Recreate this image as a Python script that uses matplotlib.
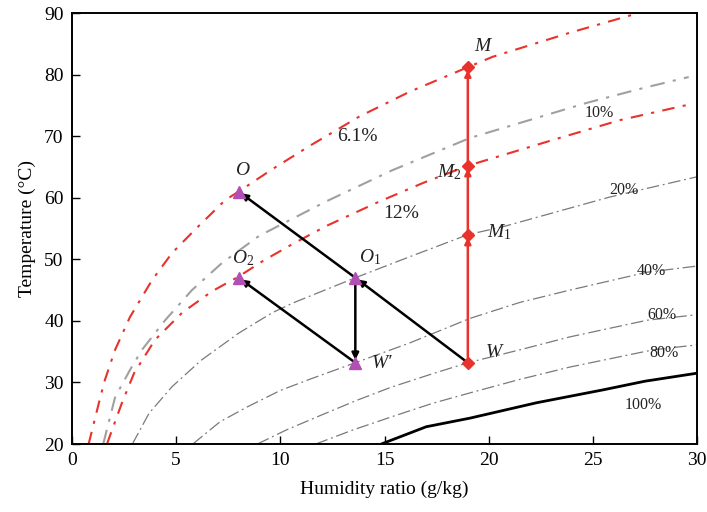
import matplotlib
matplotlib.use("Agg")
import matplotlib.pyplot as plt

plt.rcParams['font.family'] = ['Liberation Serif', 'DejaVu Serif']
plt.rcParams['mathtext.fontset'] = 'custom'
plt.rcParams['mathtext.rm'] = 'Liberation Serif'
plt.rcParams['mathtext.it'] = 'Liberation Serif:italic'

# Relative-humidity curves: (humidity ratio g/kg, temperature °C)
rh100_w = [14.85, 17.0, 19.1, 22.3, 25.5, 27.5, 30.0]
rh100_t = [20.0, 22.8, 24.2, 26.7, 28.8, 30.2, 31.5]

rh80_w = [11.7, 13.5, 15.5, 17.3, 19.1, 21.5, 23.9, 27.9, 30.0]
rh80_t = [20.0, 22.3, 24.6, 26.6, 28.3, 30.5, 32.5, 35.3, 36.1]

rh60_w = [8.9, 10.3, 11.9, 13.6, 15.3, 17.2, 19.0, 21.5, 23.9, 27.6, 30.0]
rh60_t = [20.0, 22.3, 24.6, 27.0, 29.2, 31.3, 33.2, 35.3, 37.4, 40.1, 41.0]

rh40_w = [5.8, 7.1, 8.4, 10.0, 11.4, 13.6, 16.2, 19.1, 21.5, 23.9, 27.6, 30.0]
rh40_t = [20.0, 23.6, 26.0, 28.7, 30.5, 33.2, 36.4, 40.4, 43.0, 45.0, 47.9, 48.9]

rh20_w = [2.9, 3.7, 4.8, 6.2, 8.0, 9.6, 10.6, 13.6, 16.2, 19.0, 20.7, 25.8, 30.0]
rh20_t = [20.0, 25.0, 29.3, 33.6, 38.0, 41.3, 42.9, 47.0, 50.4, 54.0, 55.3, 60.1, 63.4]

rh10_w = [1.5, 2.07, 2.78, 3.36, 4.47, 5.76, 7.2, 8.98, 12.2, 15.4, 19.1, 24.7, 27.4, 29.6]
rh10_t = [20.0, 27.6, 32.0, 35.3, 40.1, 45.0, 49.4, 53.8, 59.4, 64.5, 69.7, 75.4, 77.8, 79.6]

rh12_w = [1.68, 2.4, 2.98, 3.98, 5.28, 6.72, 8.0, 9.2, 10.6, 12.2, 14.7, 16.85, 19.0, 23.1, 26.3, 29.7]
rh12_t = [20.0, 26.7, 31.5, 36.9, 41.3, 44.8, 47.2, 49.8, 52.5, 55.4, 59.3, 62.4, 65.2, 69.4, 72.6, 75.2]

rh61_w = [0.8, 1.36, 1.58, 2.07, 2.78, 3.84, 4.8, 5.9, 7.35, 8.0, 9.6, 11.4, 13.8, 16.2, 19.0, 20.2, 23.9, 27.2]
rh61_t = [20.0, 27.6, 30.4, 35.3, 40.6, 46.6, 51.0, 54.8, 59.6, 61.0, 64.6, 68.4, 73.2, 77.2, 81.2, 82.9, 86.8, 90.0]

# State points
state_names = ['W', 'M1', 'M2', 'M', 'O1', 'Wp', 'O', 'O2']
state_w = [19.0, 19.0, 19.0, 19.0, 13.6, 13.6, 8.0, 8.0]
state_t = [33.2, 54.0, 65.2, 81.2, 47.0, 33.2, 61.0, 47.0]
pt = {n: (w, t) for n, w, t in zip(state_names, state_w, state_t)}

RED = '#e8322b'
GRAY = '#7a7a7a'
LGRAY = '#a0a0a0'
MAG = '#b24fb4'

fig = plt.figure(figsize=(7.07, 5.12), dpi=100)
ax = fig.add_axes([0.1018, 0.1328, 0.8841, 0.8418])

gray_ls = (0, (10, 3, 1.5, 3))
ax.plot(rh100_w, rh100_t, color='black', lw=2.0)
for w, t in [(rh80_w, rh80_t), (rh60_w, rh60_t), (rh40_w, rh40_t), (rh20_w, rh20_t)]:
    ax.plot(w, t, color=GRAY, lw=0.9, ls=gray_ls)
ax.plot(rh10_w, rh10_t, color=LGRAY, lw=1.5, ls=(0, (7, 4, 1.5, 4)))
red_ls = (0, (6, 4, 1.5, 4))
ax.plot(rh12_w, rh12_t, color=RED, lw=1.5, ls=red_ls)
ax.plot(rh61_w, rh61_t, color=RED, lw=1.5, ls=red_ls)

def arrow(a, b, color, lw, ms):
    ax.annotate('', xy=pt[b], xytext=pt[a],
                arrowprops=dict(arrowstyle='-|>', color=color, lw=lw,
                                mutation_scale=ms, shrinkA=0, shrinkB=2))

# Heating path W -> M1 -> M2 -> M
arrow('W', 'M1', RED, 1.8, 9)
arrow('M1', 'M2', RED, 1.8, 9)
arrow('M2', 'M', RED, 1.8, 9)
# Drying paths
arrow('W', 'O1', 'black', 1.8, 10)
arrow('O1', 'O', 'black', 1.8, 10)
arrow('O1', 'Wp', 'black', 1.8, 10)
arrow('Wp', 'O2', 'black', 1.8, 10)

for n in ['W', 'M1', 'M2', 'M']:
    ax.plot(*pt[n], marker='D', ms=6.5, color=RED, mec=RED, zorder=5)
for n in ['O1', 'Wp', 'O', 'O2']:
    ax.plot(*pt[n], marker='^', ms=8, color=MAG, mec=MAG, zorder=5)

lab = dict(fontsize=14, color='#222222')
ax.text(8.2, 64.5, r'$O$', ha='center', va='center', **lab)
ax.text(8.2, 50.2, r'$O_2$', ha='center', va='center', **lab)
ax.text(14.3, 50.3, r'$O_1$', ha='center', va='center', **lab)
ax.text(14.4, 33.0, 'W\u2032', ha='left', va='center', fontstyle='italic', **lab)
ax.text(19.8, 34.9, r'$W$', ha='left', va='center', **lab)
ax.text(19.9, 54.4, r'$M_1$', ha='left', va='center', **lab)
ax.text(18.7, 64.2, r'$M_2$', ha='right', va='center', **lab)
ax.text(19.3, 84.6, r'$M$', ha='left', va='center', **lab)

ax.text(13.7, 69.9, '6.1%', ha='center', va='center', fontsize=14, color='#222222')
ax.text(15.8, 57.5, '12%', ha='center', va='center', fontsize=14, color='#222222')
small = dict(ha='center', va='center', fontsize=11.5, color='#222222')
ax.text(25.3, 73.8, '10%', **small)
ax.text(26.5, 61.3, '20%', **small)
ax.text(27.8, 48.1, '40%', **small)
ax.text(28.3, 41.0, '60%', **small)
ax.text(28.4, 34.8, '80%', **small)
ax.text(27.4, 26.3, '100%', **small)

ax.set_xlim(0, 30)
ax.set_ylim(20, 90)
ax.set_xticks(range(0, 31, 5))
ax.set_yticks(range(20, 91, 10))
ax.tick_params(direction='in', length=6, width=1, labelsize=14, pad=6,
               top=False, right=False)
for s in ax.spines.values():
    s.set_linewidth(1.4)
ax.set_xlabel('Humidity ratio (g/kg)', fontsize=14, labelpad=8)
ax.set_ylabel('Temperature (°C)', fontsize=14, labelpad=6)

fig.savefig('out.png', dpi=100)
